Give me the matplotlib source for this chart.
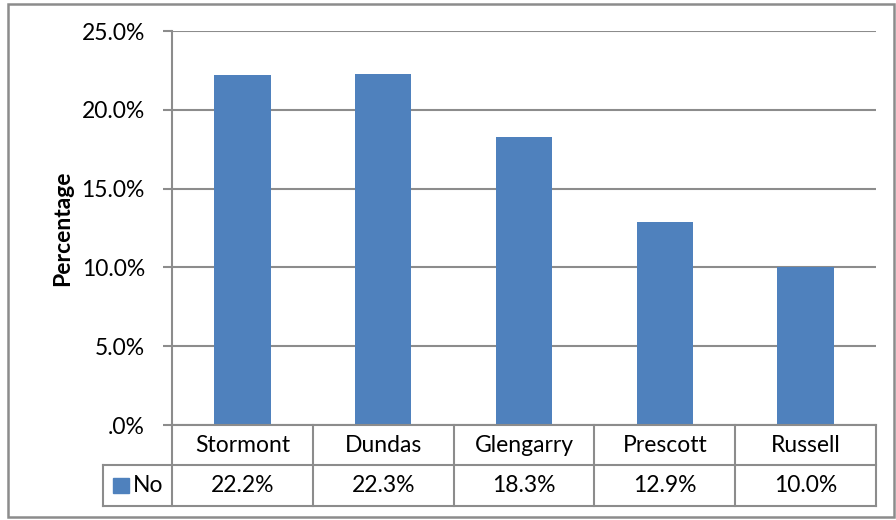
import matplotlib.pyplot as plt
from matplotlib.patches import Rectangle
from matplotlib.lines import Line2D

plt.rcParams['font.family'] = ['Lato', 'DejaVu Sans']

regions = ['Stormont', 'Dundas', 'Glengarry', 'Prescott', 'Russell']
no_pct = [22.2, 22.3, 18.3, 12.9, 10.0]
series_name = 'No'
yticks = [0, 5, 10, 15, 20, 25]
ytick_labels = ['.0%', '5.0%', '10.0%', '15.0%', '20.0%', '25.0%']

bar_color = '#4F81BD'
grid_color = '#8C8C8C'
fs = 16.5

fig = plt.figure(figsize=(8.96, 5.2), dpi=100)
W, H = 896, 520

# outer chart border
fig.add_artist(Rectangle((8 / W, 3 / H), 886 / W, 513 / H, transform=fig.transFigure,
                         fill=False, edgecolor='#8C8C8C', lw=1.8))

ax = fig.add_axes([172 / W, 1 - 425 / H, (876 - 172) / W, (425 - 31) / H])
x = range(len(regions))
ax.bar(x, no_pct, width=0.4, color=bar_color, zorder=3)
ax.set_xlim(-0.5, len(regions) - 0.5)
ax.set_ylim(0, 25)
ax.set_yticks(yticks)
ax.set_yticklabels(ytick_labels, fontsize=fs)
ax.tick_params(axis='y', length=6.5, width=1.5, color=grid_color, pad=13)
ax.set_xticks([])
for y in yticks:
    ax.axhline(y, color=grid_color, lw=1.5, zorder=1)
for s in ['top', 'right', 'bottom']:
    ax.spines[s].set_visible(False)
ax.spines['left'].set_color(grid_color)
ax.spines['left'].set_linewidth(1.5)
ax.set_ylabel('Percentage', fontsize=fs, fontweight='bold', labelpad=6)

# data table below the axis
def fx(px):
    return px / W


def fy(py):
    return 1 - py / H


col_left, col_right = 172, 876
row_top, row_mid, row_bot = 425, 465, 506
leg_left = 103
cw = (col_right - col_left) / len(regions)

lines = [
    ((col_left, col_right), (row_top, row_top)),
    ((leg_left, col_right), (row_mid, row_mid)),
    ((leg_left, col_right), (row_bot, row_bot)),
    ((leg_left, leg_left), (row_mid, row_bot)),
]
for i in range(len(regions) + 1):
    xp = col_left + i * cw
    lines.append(((xp, xp), (row_top, row_bot)))
for (xs, ys) in lines:
    fig.add_artist(Line2D([fx(v) for v in xs], [fy(v) for v in ys],
                          color=grid_color, lw=1.5, transform=fig.transFigure))

for i, (name, val) in enumerate(zip(regions, no_pct)):
    cx = col_left + (i + 0.5) * cw
    fig.text(fx(cx), fy((row_top + row_mid) / 2), name, ha='center', va='center', fontsize=fs)
    fig.text(fx(cx), fy((row_mid + row_bot) / 2), f'{val:.1f}%', ha='center', va='center', fontsize=fs)

fig.add_artist(Rectangle((fx(113), fy(493)), 16 / W, 15 / H, transform=fig.transFigure,
                         color=bar_color))
fig.text(fx(133), fy((row_mid + row_bot) / 2), series_name, ha='left', va='center', fontsize=fs)

fig.savefig('out.png', dpi=100)
